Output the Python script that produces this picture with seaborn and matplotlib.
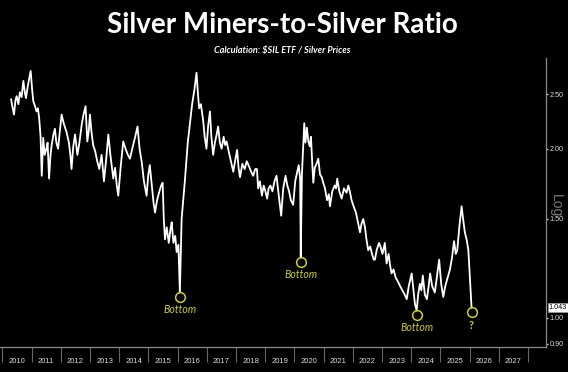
import pandas as pd
import matplotlib
matplotlib.use("Agg")
import matplotlib.pyplot as plt
import matplotlib.transforms as mtransforms
from matplotlib.ticker import FixedLocator, NullLocator, NullFormatter, FixedFormatter
import seaborn as sns

# Valores (ano decimal, razao SIL / prata)
anos = [
    2010.30, 2010.34, 2010.40, 2010.45, 2010.49, 2010.55, 2010.60, 2010.66, 2010.72, 2010.78,
    2010.81, 2010.88, 2010.97, 2011.02, 2011.06, 2011.12, 2011.17, 2011.22, 2011.26, 2011.31,
    2011.35, 2011.40, 2011.45, 2011.51, 2011.55, 2011.60, 2011.65, 2011.69, 2011.75, 2011.80,
    2011.85, 2011.91, 2011.97, 2012.03, 2012.10, 2012.20, 2012.28, 2012.33, 2012.37, 2012.43,
    2012.49, 2012.57, 2012.64, 2012.72, 2012.78, 2012.85, 2012.91, 2012.96, 2013.00, 2013.05,
    2013.11, 2013.18, 2013.25, 2013.32, 2013.40, 2013.48, 2013.55, 2013.63, 2013.70, 2013.80,
    2013.86, 2013.92, 2013.97, 2014.05, 2014.14, 2014.22, 2014.30, 2014.37, 2014.43, 2014.48,
    2014.55, 2014.63, 2014.70, 2014.77, 2014.85, 2014.94, 2015.00, 2015.05, 2015.12, 2015.18,
    2015.23, 2015.30, 2015.38, 2015.44, 2015.49, 2015.53, 2015.57, 2015.63, 2015.70, 2015.76,
    2015.80, 2015.86, 2015.92, 2015.97, 2016.03, 2016.08, 2016.14, 2016.25, 2016.35, 2016.42,
    2016.50, 2016.58, 2016.65, 2016.70, 2016.74, 2016.80, 2016.88, 2016.93, 2016.99, 2017.05,
    2017.11, 2017.16, 2017.22, 2017.28, 2017.34, 2017.39, 2017.45, 2017.51, 2017.58, 2017.63,
    2017.68, 2017.75, 2017.83, 2017.91, 2017.97, 2018.04, 2018.09, 2018.14, 2018.22, 2018.30,
    2018.37, 2018.45, 2018.52, 2018.59, 2018.66, 2018.72, 2018.76, 2018.82, 2018.89, 2018.95,
    2019.01, 2019.07, 2019.12, 2019.18, 2019.25, 2019.32, 2019.39, 2019.45, 2019.50, 2019.55,
    2019.62, 2019.70, 2019.76, 2019.82, 2019.88, 2019.96, 2020.03, 2020.10, 2020.15, 2020.20,
    2020.22, 2020.26, 2020.31, 2020.34, 2020.38, 2020.43, 2020.48, 2020.53, 2020.57, 2020.61,
    2020.65, 2020.70, 2020.76, 2020.82, 2020.88, 2020.94, 2020.99, 2021.05, 2021.12, 2021.18,
    2021.22, 2021.30, 2021.38, 2021.43, 2021.47, 2021.54, 2021.62, 2021.70, 2021.79, 2021.85,
    2021.90, 2021.96, 2022.03, 2022.11, 2022.18, 2022.25, 2022.30, 2022.36, 2022.42, 2022.47,
    2022.53, 2022.60, 2022.66, 2022.72, 2022.76, 2022.82, 2022.90, 2022.95, 2023.02, 2023.10,
    2023.16, 2023.23, 2023.28, 2023.33, 2023.40, 2023.47, 2023.55, 2023.62, 2023.70, 2023.78,
    2023.85, 2023.92, 2024.02, 2024.08, 2024.13, 2024.19, 2024.24, 2024.30, 2024.35, 2024.40,
    2024.47, 2024.54, 2024.60, 2024.65, 2024.72, 2024.81, 2024.88, 2024.96, 2025.03, 2025.10,
    2025.17, 2025.25, 2025.33, 2025.40, 2025.47, 2025.53, 2025.58, 2025.65, 2025.73, 2025.78,
    2025.84, 2025.90, 2025.96, 2026.07,
]
razao = [
    2.45, 2.38, 2.30, 2.44, 2.48, 2.40, 2.52, 2.47, 2.64, 2.50,
    2.46, 2.60, 2.75, 2.55, 2.43, 2.38, 2.33, 2.36, 2.27, 2.10,
    1.79, 2.09, 1.95, 2.00, 2.05, 1.77, 1.95, 2.03, 2.12, 2.17,
    2.05, 2.00, 2.15, 2.30, 2.22, 2.14, 2.05, 1.95, 1.84, 2.02,
    2.12, 1.95, 2.05, 2.21, 2.30, 2.38, 2.06, 2.15, 2.30, 2.15,
    2.03, 1.98, 1.90, 1.84, 1.95, 1.75, 1.90, 2.12, 1.95, 1.77,
    1.85, 1.72, 1.65, 1.85, 2.06, 2.00, 1.95, 1.92, 1.98, 2.03,
    2.10, 2.19, 2.00, 1.90, 1.75, 1.65, 1.80, 1.87, 1.72, 1.60,
    1.54, 1.62, 1.68, 1.72, 1.74, 1.50, 1.38, 1.45, 1.36, 1.44,
    1.48, 1.36, 1.40, 1.31, 1.35, 1.11, 1.50, 1.75, 2.05, 2.21,
    2.40, 2.55, 2.73, 2.50, 2.36, 2.40, 2.24, 2.10, 2.00, 2.20,
    2.33, 2.10, 1.95, 2.05, 2.12, 2.19, 2.05, 2.00, 2.10, 2.03,
    2.06, 1.98, 1.90, 1.82, 1.90, 1.99, 1.85, 1.78, 1.88, 1.84,
    1.90, 1.86, 1.82, 1.79, 1.84, 1.84, 1.70, 1.75, 1.65, 1.72,
    1.68, 1.63, 1.70, 1.72, 1.68, 1.75, 1.79, 1.68, 1.60, 1.52,
    1.70, 1.79, 1.72, 1.68, 1.62, 1.59, 1.75, 1.82, 1.87, 1.77,
    1.28, 1.80, 2.05, 2.22, 2.05, 2.18, 2.06, 2.02, 2.10, 1.90,
    1.74, 1.85, 1.88, 1.92, 1.80, 1.78, 1.74, 1.70, 1.62, 1.66,
    1.58, 1.68, 1.72, 1.70, 1.77, 1.68, 1.63, 1.70, 1.67, 1.72,
    1.68, 1.62, 1.58, 1.54, 1.48, 1.42, 1.47, 1.50, 1.45, 1.38,
    1.32, 1.34, 1.30, 1.27, 1.27, 1.32, 1.36, 1.34, 1.30, 1.36,
    1.25, 1.30, 1.24, 1.20, 1.22, 1.18, 1.16, 1.14, 1.12, 1.10,
    1.08, 1.14, 1.20, 1.12, 1.06, 1.03, 1.10, 1.15, 1.12, 1.19,
    1.10, 1.08, 1.14, 1.20, 1.14, 1.11, 1.18, 1.27, 1.15, 1.09,
    1.14, 1.18, 1.22, 1.28, 1.37, 1.30, 1.32, 1.45, 1.58, 1.50,
    1.42, 1.38, 1.32, 1.043,
]

# Pontos marcados com circulo
fundos_x = [2016.08, 2020.22, 2024.19, 2026.07]
fundos_y = [1.11, 1.28, 1.03, 1.043]
fundos_txt = ["Bottom", "Bottom", "Bottom", "?"]

anos_rotulo = list(range(2010, 2028))
ticks_y = [0.90, 1.00, 1.50, 2.00, 2.50]
ultimo_valor = "1.043"

df = pd.DataFrame({"ano": anos, "razao": razao})

sns.set_style("ticks")
plt.rcParams["font.family"] = ["Liberation Sans", "DejaVu Sans"]

fig = plt.figure(figsize=(5.68, 3.72), dpi=100)
fig.patch.set_facecolor("black")
ax = fig.add_axes([0.0, 0.0672, 0.9613, 0.777])
ax.set_facecolor("black")

sns.lineplot(data=df, x="ano", y="razao", color="white", linewidth=1.3,
             estimator=None, sort=False, ax=ax)

ax.set_yscale("log")
ax.set_ylim(0.888, 2.90)
ax.set_xlim(2009.92, 2028.62)
ax.set_xlabel("")
ax.set_ylabel("")

# eixo y a direita
ax.yaxis.tick_right()
ax.yaxis.set_major_locator(FixedLocator(ticks_y))
ax.yaxis.set_major_formatter(FixedFormatter([f"{v:.2f}" for v in ticks_y]))
ax.yaxis.set_minor_locator(NullLocator())
ax.yaxis.set_minor_formatter(NullFormatter())
ax.tick_params(axis="y", which="major", length=1.5, width=1.0, color="#cccccc",
               labelcolor="#dddddd", labelsize=5.2, pad=1)

# eixo x: separadores nos limites dos anos, rotulos no meio
ax.xaxis.set_major_locator(FixedLocator([a for a in range(2010, 2029)]))
ax.xaxis.set_major_formatter(NullFormatter())
ax.xaxis.set_minor_locator(FixedLocator([a + 0.5 for a in anos_rotulo]))
ax.xaxis.set_minor_formatter(FixedFormatter([str(a) for a in anos_rotulo]))
ax.tick_params(axis="x", which="major", length=11, width=0.8, color="#666666", direction="out")
ax.tick_params(axis="x", which="minor", length=0, labelcolor="#dddddd", labelsize=5.5, pad=8)

for lado in ["top", "left"]:
    ax.spines[lado].set_visible(False)
for lado in ["bottom", "right"]:
    ax.spines[lado].set_color("#8a8a8a")
    ax.spines[lado].set_linewidth(0.9)

# circulos e textos amarelos
amarelo = "#cfcf2a"
desloc = mtransforms.offset_copy(ax.transData, fig=fig, y=-3, units="points")
ax.plot(fundos_x, fundos_y, linestyle="none", marker="o", markersize=7,
        markerfacecolor="none", markeredgecolor=amarelo, markeredgewidth=1.1,
        transform=desloc, clip_on=False)
for x, y, t in zip(fundos_x, fundos_y, fundos_txt):
    if t == "?":
        ax.annotate(t, xy=(x, y), xytext=(0, -13), textcoords="offset points",
                    ha="center", va="center", color=amarelo, fontsize=8,
                    fontweight="bold", family=["Lato", "DejaVu Sans"])
    else:
        ax.annotate(t, xy=(x, y), xytext=(0, -12), textcoords="offset points",
                    ha="center", va="center", color=amarelo, fontsize=7.6,
                    fontstyle="italic", family=["Lato", "DejaVu Sans"])

# rotulo do ultimo valor
ax.annotate(ultimo_valor, xy=(1.0, razao[-1]), xycoords=("axes fraction", "data"),
            xytext=(2, 0), textcoords="offset points", ha="left", va="center",
            fontsize=5.2, color="black",
            bbox=dict(boxstyle="square,pad=0.12", fc="white", ec="#999999", lw=0.5))

fig.text(556 / 568, 1 - 206 / 372, "Log", rotation=270, color="#777777",
         fontsize=10, ha="center", va="center")

fig.text(0.498, 1 - 25 / 372, "Silver Miners-to-Silver Ratio", color="white",
         fontsize=20, fontweight="bold", ha="center", va="center",
         family=["Lato", "DejaVu Sans"])
fig.text(0.497, 1 - 51 / 372, "Calculation: $SIL ETF / Silver Prices", color="white",
         fontsize=6.6, fontweight="bold", fontstyle="italic", ha="center", va="center",
         family=["Lato", "DejaVu Sans"])

fig.savefig("out.png", dpi=100, facecolor=fig.get_facecolor())
